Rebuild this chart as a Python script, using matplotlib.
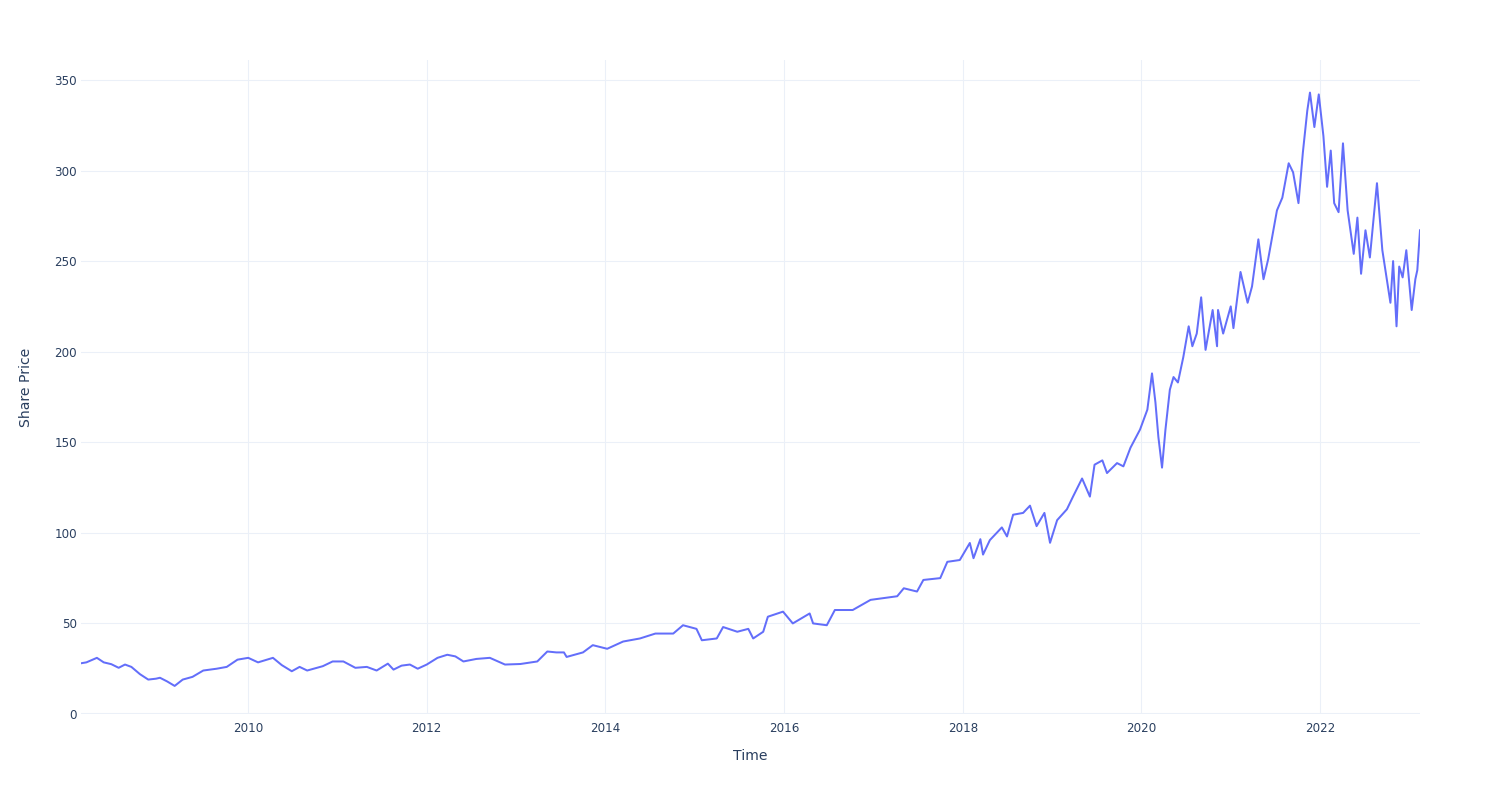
import pandas as pd
import matplotlib.pyplot as plt
import matplotlib.dates as mdates

# Share price
dates = [
    "2008-02-17", "2008-03-10", "2008-04-22", "2008-05-20", "2008-06-20", "2008-07-20",
    "2008-08-15", "2008-09-10", "2008-10-15", "2008-11-18", "2008-12-20",
    "2009-01-05", "2009-02-03", "2009-03-06", "2009-04-08", "2009-05-18", "2009-07-01",
    "2009-08-25", "2009-10-05", "2009-11-18",
    "2010-01-01", "2010-02-10", "2010-04-12", "2010-05-18", "2010-06-28", "2010-07-30",
    "2010-08-30", "2010-11-02", "2010-12-12",
    "2011-01-25", "2011-03-15", "2011-05-01", "2011-06-10", "2011-07-26", "2011-08-18",
    "2011-09-20", "2011-10-24", "2011-11-25",
    "2012-01-01", "2012-02-14", "2012-03-25", "2012-04-27", "2012-05-30", "2012-07-22",
    "2012-09-15", "2012-11-16",
    "2013-01-18", "2013-03-28", "2013-05-08", "2013-06-14", "2013-07-15", "2013-07-26",
    "2013-10-01", "2013-11-10",
    "2014-01-08", "2014-03-14", "2014-05-22", "2014-07-24", "2014-10-05", "2014-11-14",
    "2015-01-08", "2015-01-30", "2015-04-01", "2015-04-27", "2015-06-24", "2015-08-08",
    "2015-08-28", "2015-10-08", "2015-10-27", "2015-12-28",
    "2016-02-06", "2016-04-15", "2016-04-29", "2016-06-24", "2016-07-27", "2016-10-08",
    "2016-12-20",
    "2017-04-08", "2017-05-05", "2017-06-28", "2017-07-24", "2017-10-01", "2017-10-30",
    "2017-12-20",
    "2018-01-30", "2018-02-14", "2018-03-14", "2018-03-25", "2018-04-22", "2018-06-10",
    "2018-07-01", "2018-07-26", "2018-09-05", "2018-10-03", "2018-10-30", "2018-12-01",
    "2018-12-24",
    "2019-01-22", "2019-03-03", "2019-03-28", "2019-05-04", "2019-06-05", "2019-06-24",
    "2019-07-26", "2019-08-14", "2019-09-24", "2019-10-20", "2019-11-18", "2019-12-27",
    "2020-01-26", "2020-02-14", "2020-02-28", "2020-03-11", "2020-03-26", "2020-04-09",
    "2020-04-27", "2020-05-12", "2020-05-30", "2020-06-21", "2020-07-13", "2020-07-28",
    "2020-08-15", "2020-09-02", "2020-09-20", "2020-10-19", "2020-11-06", "2020-11-10",
    "2020-12-01",
    "2021-01-01", "2021-01-12", "2021-02-10", "2021-03-11", "2021-03-29", "2021-04-24",
    "2021-05-15", "2021-06-03", "2021-07-09", "2021-07-31", "2021-08-26", "2021-09-13",
    "2021-10-05", "2021-10-23", "2021-11-10", "2021-11-21", "2021-12-09", "2021-12-27",
    "2022-01-15", "2022-01-30", "2022-02-14", "2022-02-28", "2022-03-18", "2022-04-05",
    "2022-04-24", "2022-05-19", "2022-06-03", "2022-06-18", "2022-07-06", "2022-07-24",
    "2022-08-22", "2022-09-13", "2022-10-16", "2022-10-27", "2022-11-10", "2022-11-21",
    "2022-12-05", "2022-12-20",
    "2023-01-11", "2023-01-26", "2023-02-03", "2023-02-14",
]
prices = [
    28.0, 28.5, 31.0, 28.5, 27.5, 25.5,
    27.3, 26.0, 22.0, 19.0, 19.5,
    20.0, 18.0, 15.5, 19.0, 20.5, 24.0,
    25.0, 26.0, 30.0,
    31.0, 28.5, 31.0, 27.0, 23.6, 26.0,
    24.0, 26.4, 29.0,
    29.0, 25.5, 26.0, 24.0, 27.8, 24.5,
    26.7, 27.3, 25.0,
    27.3, 31.0, 32.7, 31.8, 29.0, 30.4,
    31.0, 27.3,
    27.6, 29.0, 34.5, 34.0, 34.0, 31.5,
    34.0, 38.0,
    36.0, 40.0, 41.7, 44.4, 44.4, 49.0,
    47.0, 40.7, 41.7, 48.0, 45.4, 47.0,
    41.7, 45.4, 53.7, 56.5,
    50.0, 55.5, 50.0, 49.0, 57.4, 57.4,
    63.0,
    65.0, 69.4, 67.6, 74.0, 75.0, 84.0,
    85.0,
    94.4, 86.0, 96.5, 88.0, 96.0, 103.0,
    98.0, 110.0, 111.0, 115.0, 103.7, 111.0,
    94.5,
    107.0, 113.0, 120.0, 130.0, 120.0, 137.6,
    140.0, 133.0, 138.5, 136.7, 147.0, 157.0,
    168.0, 188.0, 172.0, 153.0, 136.0, 157.0,
    179.0, 186.0, 183.0, 197.0, 214.0, 203.0,
    210.0, 230.0, 201.0, 223.0, 203.0, 223.0,
    210.0,
    225.0, 213.0, 244.0, 227.0, 236.0, 262.0,
    240.0, 251.0, 278.0, 285.0, 304.0, 299.0,
    282.0, 310.0, 333.0, 343.0, 324.0, 342.0,
    319.0, 291.0, 311.0, 282.0, 277.0, 315.0,
    278.0, 254.0, 274.0, 243.0, 267.0, 252.0,
    293.0, 256.0, 227.0, 250.0, 214.0, 247.0,
    241.0, 256.0,
    223.0, 240.0, 245.0, 267.0,
]

LINE_COLOR = "#636efa"
GRID_COLOR = "#ebf0f8"
TEXT_COLOR = "#2a3f5f"

df = pd.DataFrame({"Date": pd.to_datetime(dates), "Price": prices})

plt.rcParams["font.family"] = ["DejaVu Sans"]

fig = plt.figure(figsize=(15, 8), dpi=100)
ax = fig.add_axes([81 / 1500, 1 - 714 / 800, (1420 - 81) / 1500, (714 - 60) / 800])

ax.plot(df["Date"], df["Price"], color=LINE_COLOR, linewidth=1.44, zorder=3)

ax.set_xlim(df["Date"].iloc[0], df["Date"].iloc[-1])
ax.set_ylim(0, 361)
ax.set_yticks(range(0, 351, 50))
ax.xaxis.set_major_locator(mdates.YearLocator(2))
ax.xaxis.set_major_formatter(mdates.DateFormatter("%Y"))

ax.grid(True, color=GRID_COLOR, linewidth=0.75, zorder=0)
ax.axhline(0, color=GRID_COLOR, linewidth=1.5, zorder=1)
for side in ax.spines.values():
    side.set_visible(False)
ax.tick_params(axis="both", length=0, labelsize=8.6, labelcolor=TEXT_COLOR)
ax.tick_params(axis="x", pad=6)
ax.tick_params(axis="y", pad=3)

ax.set_xlabel("Time", fontsize=10.1, color=TEXT_COLOR, labelpad=10)
ax.set_ylabel("Share Price", fontsize=10.1, color=TEXT_COLOR, labelpad=15)

fig.savefig("out.png", dpi=100, facecolor="white")
